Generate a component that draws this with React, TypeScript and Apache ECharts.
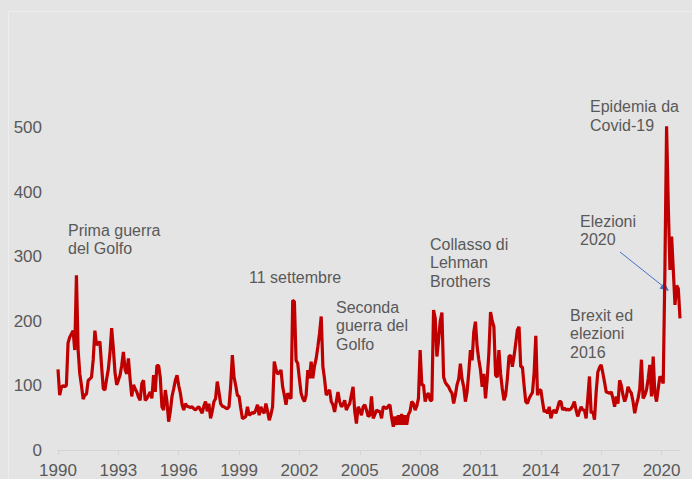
import React, { useEffect, useRef } from "react";
import * as echarts from "echarts";

const startYear = 1990;
const endYear = 2020;

// Monthly values, Jan..Dec
const v1990 = [125, 85, 97, 100, 98, 100, 166, 175, 180, 185, 155, 271];
const v1991 = [155, 118, 100, 79, 85, 87, 108, 110, 113, 140, 185, 163];
const v1992 = [165, 168, 130, 95, 93, 110, 125, 150, 189, 158, 120, 101];
const v1993 = [108, 116, 131, 152, 125, 118, 142, 110, 83, 101, 95, 90];
const v1994 = [82, 77, 103, 108, 77, 80, 85, 90, 80, 116, 90, 131];
const v1995 = [131, 113, 67, 62, 93, 75, 44, 60, 83, 95, 108, 116];
const v1996 = [100, 88, 70, 62, 72, 68, 67, 66, 67, 64, 62, 65];
const v1997 = [67, 62, 57, 68, 75, 60, 72, 49, 60, 75, 80, 106];
const v1998 = [90, 72, 68, 67, 65, 64, 67, 100, 147, 113, 100, 85];
const v1999 = [83, 65, 49, 50, 52, 67, 54, 56, 58, 57, 62, 70];
const v2000 = [54, 67, 60, 57, 72, 60, 46, 55, 67, 137, 125, 118];
const v2001 = [120, 124, 98, 85, 70, 88, 82, 80, 232, 230, 139, 134];
const v2002 = [110, 88, 80, 75, 85, 124, 111, 137, 111, 130, 142, 160];
const v2003 = [181, 207, 129, 110, 85, 90, 93, 75, 70, 59, 75, 90];
const v2004 = [75, 67, 70, 77, 62, 68, 72, 85, 98, 60, 41, 67];
const v2005 = [62, 54, 67, 70, 62, 52, 54, 83, 49, 55, 62, 60];
const v2006 = [60, 49, 67, 66, 64, 68, 70, 50, 36, 52, 39, 54];
const v2007 = [39, 56, 39, 54, 39, 55, 60, 75, 72, 62, 68, 80];
const v2008 = [155, 101, 101, 75, 85, 88, 77, 77, 217, 204, 145, 170];
const v2009 = [200, 213, 113, 105, 101, 98, 92, 88, 72, 85, 101, 110];
const v2010 = [134, 110, 98, 75, 90, 120, 155, 139, 183, 199, 160, 140];
const v2011 = [124, 98, 118, 80, 110, 150, 214, 200, 191, 116, 113, 155];
const v2012 = [118, 95, 77, 85, 110, 145, 147, 129, 145, 165, 186, 191];
const v2013 = [129, 129, 100, 75, 72, 80, 85, 89, 120, 177, 85, 93];
const v2014 = [93, 75, 59, 62, 57, 67, 49, 59, 62, 57, 65, 75];
const v2015 = [75, 62, 65, 62, 63, 62, 64, 68, 75, 62, 52, 60];
const v2016 = [67, 62, 62, 49, 80, 114, 57, 60, 47, 90, 121, 128];
const v2017 = [132, 119, 105, 90, 89, 88, 90, 80, 67, 83, 72, 108];
const v2018 = [100, 85, 75, 83, 98, 92, 88, 75, 57, 70, 80, 95];
const v2019 = [140, 80, 85, 93, 110, 132, 83, 145, 88, 75, 95, 114];
const v2020 = [110, 103, 280, 502, 380, 279, 331, 279, 225, 255, 250, 204];

const yearly = [
  v1990, v1991, v1992, v1993, v1994, v1995, v1996, v1997, v1998, v1999,
  v2000, v2001, v2002, v2003, v2004, v2005, v2006, v2007, v2008, v2009,
  v2010, v2011, v2012, v2013, v2014, v2015, v2016, v2017, v2018, v2019, v2020,
];

const yTicks = [0, 100, 200, 300, 400, 500];

const annotations = [
  { text: "Prima guerra\ndel Golfo", x: 68, y: 221 },
  { text: "11 settembre", x: 249, y: 268 },
  { text: "Seconda\nguerra del\nGolfo", x: 336, y: 298 },
  { text: "Collasso di\nLehman\nBrothers", x: 430, y: 235 },
  { text: "Brexit ed\nelezioni\n2016", x: 570, y: 306 },
  { text: "Elezioni\n2020", x: 580, y: 212 },
  { text: "Epidemia da\nCovid-19", x: 590, y: 97.5 },
];

export default function App() {
  const ref = useRef<HTMLDivElement>(null);
  useEffect(() => {
    document.body.style.margin = "0";
    document.body.style.background = "#e4e4e4";
    const chart = echarts.init(ref.current!, null, { renderer: "svg" });
    const categories: string[] = [];
    const values: number[] = [];
    for (let y = startYear; y <= endYear; y++) {
      const arr = yearly[y - startYear];
      for (let m = 0; m < 12; m++) {
        categories.push(`${y}-${String(m + 1).padStart(2, "0")}`);
        values.push(arr[m]);
      }
    }
    const showTick = (idx: number, val: string) => {
      const yr = parseInt(val.slice(0, 4), 10);
      const mo = parseInt(val.slice(5, 7), 10);
      return mo === 1 && (yr - startYear) % 3 === 0;
    };
    const font = "Liberation Sans, Arial, sans-serif";
    // arrow
    const tip = [669, 291];
    const start = [620, 252];
    const dx = tip[0] - start[0];
    const dy = tip[1] - start[1];
    const len = Math.sqrt(dx * dx + dy * dy);
    const ux = dx / len, uy = dy / len;
    const hl = 9, hw = 4;
    const bx = tip[0] - hl * ux, by = tip[1] - hl * uy;
    chart.setOption({
      animation: false,
      backgroundColor: "#e4e4e4",
      grid: { left: 58, right: 12, top: 63, bottom: 29, containLabel: false },
      xAxis: {
        type: "category",
        data: categories,
        boundaryGap: false,
        axisLine: { lineStyle: { color: "#d4d4d4", width: 1 } },
        axisTick: { show: true, interval: showTick, length: 5, lineStyle: { color: "#d4d4d4" } },
        axisLabel: {
          interval: showTick,
          formatter: (v: string) => v.slice(0, 4),
          color: "#595959",
          fontSize: 17,
          fontFamily: font,
          margin: 12,
        },
        splitLine: { show: false },
      },
      yAxis: {
        type: "value",
        min: 0,
        max: 600,
        interval: 100,
        axisLine: { show: false },
        axisTick: { show: false },
        splitLine: { show: false },
        axisLabel: {
          color: "#595959",
          fontSize: 17,
          fontFamily: font,
          margin: 16,
          formatter: (v: number) => (yTicks.includes(v) ? String(v) : ""),
        },
      },
      series: [
        {
          type: "line",
          data: values,
          showSymbol: false,
          symbol: "none",
          lineStyle: { color: "#c00000", width: 3.2 },
          itemStyle: { color: "#c00000" },
          clip: false,
        },
      ],
      graphic: [
        {
          type: "rect",
          silent: true,
          shape: { x: 8.5, y: 11.5, width: 720, height: 520 },
          style: { fill: "none", stroke: "#ededed", lineWidth: 1 },
        },
        ...annotations.map((a) => ({
          type: "text",
          x: a.x,
          y: a.y,
          silent: true,
          style: {
            text: a.text,
            fill: "#595959",
            font: `16px ${font}`,
            lineHeight: 18.5,
            verticalAlign: "top",
            align: "left",
          },
        })),
        {
          type: "line",
          silent: true,
          shape: { x1: start[0], y1: start[1], x2: bx, y2: by },
          style: { stroke: "#4472c4", lineWidth: 1 },
        },
        {
          type: "polygon",
          silent: true,
          shape: {
            points: [
              [tip[0], tip[1]],
              [bx - hw * uy, by + hw * ux],
              [bx + hw * uy, by - hw * ux],
            ],
          },
          style: { fill: "#4472c4" },
        },
      ],
    });
    return () => chart.dispose();
  }, []);
  return (
    <div
      ref={ref}
      style={{ position: "absolute", left: 0, top: 0, width: 692, height: 479, background: "#e4e4e4" }}
    />
  );
}
